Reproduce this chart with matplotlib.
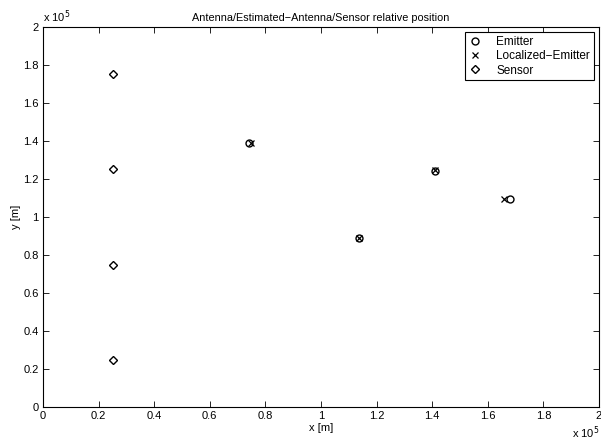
import matplotlib
matplotlib.use("Agg")
import matplotlib.pyplot as plt

plt.rcParams['font.family'] = ['Liberation Sans', 'DejaVu Sans']
plt.rcParams['font.size'] = 8

# positions in units of 1e5 m
emitter_x = [0.741, 1.137, 1.41, 1.68]
emitter_y = [1.39, 0.889, 1.242, 1.095]
localized_x = [0.748, 1.135, 1.41, 1.658]
localized_y = [1.392, 0.889, 1.248, 1.095]
sensor_x = [0.252, 0.252, 0.252, 0.252]
sensor_y = [1.753, 1.253, 0.747, 0.247]

ticks = [0, 0.2, 0.4, 0.6, 0.8, 1, 1.2, 1.4, 1.6, 1.8, 2]
tick_labels = ['0', '0.2', '0.4', '0.6', '0.8', '1', '1.2', '1.4', '1.6', '1.8', '2']

fig = plt.figure(figsize=(6.01, 4.44), dpi=100)
ax = fig.add_axes([0.0715, 0.0833, 0.9252, 0.8559])

ax.plot(emitter_x, emitter_y, 'o', mfc='none', mec='black', ms=5, mew=1, label='Emitter')
ax.plot(localized_x, localized_y, 'x', color='black', ms=4, mew=0.9, label='Localized\u2212Emitter')
ax.plot(sensor_x, sensor_y, 'D', mfc='none', mec='black', ms=4.5, mew=1, label='Sensor')

ax.set_xlim(0, 2)
ax.set_ylim(0, 2)
ax.set_xticks(ticks)
ax.set_xticklabels(tick_labels)
ax.set_yticks(ticks)
ax.set_yticklabels(tick_labels)
ax.tick_params(direction='in', top=True, right=True, length=4, width=0.6, pad=3)
for s in ax.spines.values():
    s.set_linewidth(0.8)

ax.set_xlabel('x [m]', labelpad=1)
ax.set_ylabel('y [m]', labelpad=2)
ax.set_title('Antenna/Estimated\u2212Antenna/Sensor relative position', pad=4, fontsize=7.8)

ax.text(0.0, 1.005, 'x 10$^5$', transform=ax.transAxes, ha='left', va='bottom')
ax.text(0.951, -0.068, 'x 10$^5$', transform=ax.transAxes, ha='left', va='center')

leg = ax.legend(loc='upper right', fancybox=False, framealpha=1, edgecolor='black',
                borderpad=0.3, handletextpad=1.2, labelspacing=0.2, handlelength=1.2,
                borderaxespad=0.45, fontsize=8.5)
leg.get_frame().set_linewidth(0.8)

fig.savefig('out.png', dpi=100)
